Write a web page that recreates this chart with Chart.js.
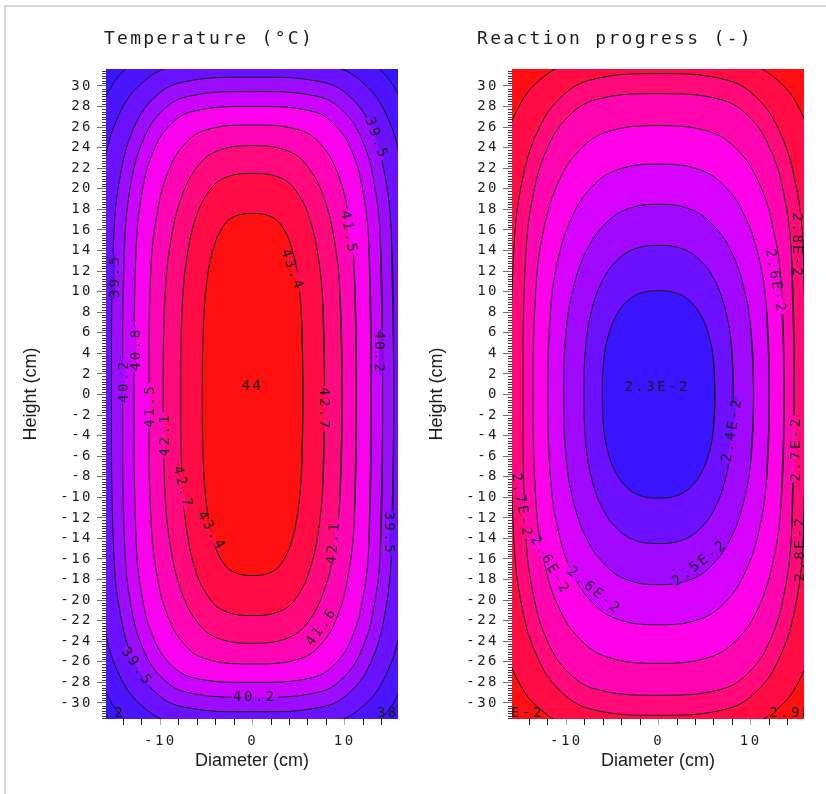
<!DOCTYPE html>
<html>
<head>
<meta charset="utf-8">
<script src="https://cdn.jsdelivr.net/npm/chart.js@4.4.1/dist/chart.umd.min.js"></script>
<style>
html,body{margin:0;padding:0;background:#fff;}
#page{position:relative;width:826px;height:794px;overflow:hidden;}
#frame{position:absolute;left:4px;top:5px;width:840px;height:800px;border-top:2px solid #d8d8d8;border-left:2px solid #d8d8d8;}
canvas{position:absolute;top:0;}
</style>
</head>
<body>
<div id="page">
  <div id="frame"></div>
  <canvas id="temp" width="406" height="794" style="left:6px"></canvas>
  <canvas id="prog" width="406" height="794" style="left:412px"></canvas>
</div>
<script>
var yTicks=[30,28,26,24,22,20,18,16,14,12,10,8,6,4,2,0,-2,-4,-6,-8,-10,-12,-14,-16,-18,-20,-22,-24,-26,-28,-30]
var xTicks=[-14,-12,-10,-8,-6,-4,-2,0,2,4,6,8,10,12,14]
var xTickLabels=[-10,0,10]

// temperature contours, one quarter each (x>=0,y>=0), from the y=0 crossing up to the x=0 crossing
var T434=[[5.45,0],[5.32,7.15],[4.95,11.09],[4.33,13.97],[3.43,16.0],[2.21,17.2],[0,17.6]]
var T427=[[7.8,0],[7.62,8.73],[7.09,13.55],[6.19,17.07],[4.91,19.54],[3.17,21.01],[0,21.5]]
var T421=[[9.7,0],[9.48,9.83],[8.82,15.25],[7.70,19.21],[6.11,22.0],[3.94,23.64],[0,24.2]]
var T415=[[11.25,0],[11.03,12.10],[10.36,17.63],[9.23,21.48],[7.57,24.13],[5.20,25.68],[0,26.2]]
var T408=[[12.85,0],[12.63,14.25],[11.96,19.80],[10.81,23.55],[9.08,26.07],[6.54,27.52],[0,28.0]]
var T402=[[14.1,0],[13.86,14.99],[13.13,20.82],[11.86,24.77],[9.97,27.42],[7.18,28.95],[0,29.45]]
var T395=[[15.3,0],[15.04,15.70],[14.24,21.81],[12.87,25.94],[10.82,28.72],[7.79,30.33],[0,30.85]]
var T389=[[17.2,0],[16.91,16.49],[16.01,22.90],[14.47,27.25],[12.16,30.16],[8.75,31.86],[0,32.4]]
var T382=[[19,0],[18.68,17.46],[17.69,24.25],[15.98,28.85],[13.43,31.93],[9.67,33.72],[0,34.3]]

// reaction progress contours, same layout
var R23=[[6.1,0],[5.94,3.42],[5.44,5.79],[4.62,7.65],[3.50,8.99],[2.07,9.82],[0,10.09]]
var R24=[[8.1,0],[7.88,4.92],[7.22,8.32],[6.14,10.99],[4.65,12.92],[2.75,14.11],[0,14.5]]
var R25=[[10.3,0],[10.02,6.27],[9.18,10.62],[7.81,14.02],[5.91,16.48],[3.49,18.0],[0,18.5]]
var R26=[[12.0,0],[11.7,8.40],[10.81,13.53],[9.32,17.40],[7.25,20.18],[4.5,21.84],[0,22.4]]
var R265=[[13.6,0],[13.29,10.62],[12.36,16.47],[10.80,20.76],[8.57,23.77],[5.52,25.55],[0,26.15]]
var R27=[[14.7,0],[14.41,13.51],[13.54,19.69],[12.05,23.99],[9.89,26.94],[6.79,28.67],[0,29.25]]
var R28=[[16.0,0],[15.68,14.41],[14.74,21.0],[13.12,25.58],[10.77,28.74],[7.39,30.58],[0,31.2]]
var R29=[[18.3,0],[17.99,16.70],[17.04,23.19],[15.39,27.59],[12.94,30.54],[9.31,32.24],[0,32.8]]

var tempLabelText=['44','43.4','43.4','42.7','42.7','42.1','42.1','41.5','41.5','41.6','40.8','40.2','40.2','40.2','39.5','39.5','39.5','39.5','38.2','38.2']
var tempLabelX=[0,4.3,-4.5,7.7,-7.6,-9.5,8.8,-11.1,10.4,7.5,-12.6,-13.9,13.7,0.25,13.4,-14.9,14.8,-12.6,-16.2,15.85]
var tempLabelY=[0.8,12.1,-13.3,-1.4,-9.05,-3.9,-14.4,-1.1,15.75,-22.6,4.4,1.3,4.1,-29.5,24.9,11.5,-13.5,-26.5,-31.0,-31.0]
var tempLabelAngle=[0,70,60,90,75,-90,-85,-90,80,-55,-90,-90,90,0,70,-90,90,55,0,0]

var progLabelText=['2.3E-2','2.4E-2','2.5E-2','2.6E-2','2.6E-2','2.6E-2','2.7E-2','2.7E-2','2.8E-2','2.8E-2','2.9E-2','2.9E-2']
var progLabelX=[-0.15,8.0,4.5,-7.0,-11.8,12.65,-14.9,14.9,15.0,15.4,-16.0,15.55]
var progLabelY=[0.7,-3.45,-16.4,-19.1,-16.6,11.0,-10.8,-5.3,14.5,-15.0,-31.0,-31.0]
var progLabelAngle=[0,-80,-38,40,60,80,80,-90,90,-90,0,0]

// fill inside each curve (innermost first), then the colour outside all of them
var tempColors=['#ff1010','#ff0c46','#ff0a7c','#ff06b4','#fa02ee','#cc04ff','#9c0cff','#6a12ff','#4a14ff']
var tempBg='#3516ff'
var progColors=['#3a14ff','#6c10ff','#a008ff','#d604ff','#ff02e8','#ff06b0','#ff0a78','#ff0c44']
var progBg='#ff0e14'

function closedLoop(q){
	var pts=[],i
	pts.push({x:q[1][0],y:-q[1][1]})
	for(i=0;i<q.length;i++) pts.push({x:q[i][0],y:q[i][1]})
	for(i=q.length-2;i>=0;i--) pts.push({x:-q[i][0],y:q[i][1]})
	for(i=1;i<q.length;i++) pts.push({x:-q[i][0],y:-q[i][1]})
	for(i=q.length-2;i>=0;i--) pts.push({x:q[i][0],y:-q[i][1]})
	pts.push({x:q[1][0],y:q[1][1]})
	return pts
}

// colour of the band next to a label, looked up on the drawn canvas
function bandColour(ctx,a,x,y,nx,ny,side){
	var dists=[4,6,3,8]
	for(var i=0;i<dists.length;i++){
		var px=Math.round(x+side*dists[i]*nx),py=Math.round(y+side*dists[i]*ny)
		if(px<a.left||px>=a.right||py<a.top||py>=a.bottom) continue
		var d=ctx.getImageData(px,py,1,1).data
		if(d[3]>0 && Math.max(d[0],d[1],d[2])>150) return 'rgb('+d[0]+','+d[1]+','+d[2]+')'
	}
	return null
}

function contourPlugin(bg,labels,title){
	return {
		id:'contour',
		beforeDraw:function(chart){ chart.ctx.letterSpacing='2.5px' },
		beforeDatasetsDraw:function(chart){
			var a=chart.chartArea,ctx=chart.ctx
			ctx.save()
			ctx.fillStyle=bg
			ctx.fillRect(a.left,a.top,a.right-a.left,a.bottom-a.top)
			ctx.restore()
		},
		afterDatasetsDraw:function(chart){
			var a=chart.chartArea,ctx=chart.ctx,sx=chart.scales.x,sy=chart.scales.y
			var items=[],i
			for(i=0;i<labels.text.length;i++){
				var cx=sx.getPixelForValue(labels.x[i]),cy=sy.getPixelForValue(labels.y[i])
				var th=labels.angle[i]*Math.PI/180
				var nx=-Math.sin(th),ny=Math.cos(th)
				items.push({t:labels.text[i],x:cx,y:cy,th:th,
					up:bandColour(ctx,a,cx,cy,nx,ny,-1),dn:bandColour(ctx,a,cx,cy,nx,ny,1)})
			}
			ctx.save()
			ctx.beginPath()
			ctx.rect(a.left,a.top,a.right-a.left,a.bottom-a.top)
			ctx.clip()
			ctx.font='14px "DejaVu Sans Mono"'
			ctx.letterSpacing='2.5px'
			ctx.textAlign='center'
			ctx.textBaseline='middle'
			items.forEach(function(it){
				var w=ctx.measureText(it.t).width+2
				ctx.save()
				ctx.translate(it.x,it.y)
				ctx.rotate(it.th)
				if(it.up && it.dn){
					// break the contour line under the label
					ctx.fillStyle=it.up
					ctx.fillRect(-w/2,-4,w,4)
					ctx.fillStyle=it.dn
					ctx.fillRect(-w/2,0,w,4)
				}
				ctx.fillStyle='#1c1c1c'
				ctx.fillText(it.t,0,0)
				ctx.restore()
			})
			ctx.restore()
		},
		afterDraw:function(chart){
			var a=chart.chartArea,ctx=chart.ctx,sy=chart.scales.y
			ctx.save()
			// minor ticks of the height axis
			ctx.strokeStyle='#3a3a3a'
			ctx.lineWidth=1
			ctx.beginPath()
			for(var k=-126;k<=126;k++){
				if(k%8===0) continue
				var py=Math.round(sy.getPixelForValue(k/4))+0.5
				ctx.moveTo(a.left-4,py)
				ctx.lineTo(a.left,py)
			}
			ctx.stroke()
			ctx.fillStyle='#1c1c1c'
			ctx.textAlign='center'
			ctx.textBaseline='middle'
			ctx.letterSpacing='2.3px'
			ctx.font='18px "DejaVu Sans Mono"'
			ctx.fillText(title,chart.width/2,39)
			ctx.letterSpacing='0px'
			ctx.font='18px "Liberation Sans"'
			ctx.fillText('Diameter (cm)',(a.left+a.right)/2,761)
			ctx.translate(25,(a.top+a.bottom)/2)
			ctx.rotate(-Math.PI/2)
			ctx.fillText('Height (cm)',0,0)
			ctx.restore()
		}
	}
}

function makeChart(id,curves,colors,bg,labels,title){
	var datasets=[]
	for(var i=0;i<curves.length;i++){
		datasets.push({data:closedLoop(curves[i]),backgroundColor:colors[i],borderColor:'#161616',fill:'shape'})
	}
	var tickFont={family:'DejaVu Sans Mono',size:14}
	return new Chart(document.getElementById(id),{
		type:'line',
		data:{datasets:datasets},
		options:{
			responsive:false,
			animation:false,
			events:[],
			layout:{padding:{top:69,right:14,bottom:45,left:0}},
			elements:{
				line:{borderWidth:1,tension:0.4,capBezierPoints:false},
				point:{radius:0}
			},
			scales:{
				x:{
					type:'linear',min:-15.9,max:15.77,
					afterBuildTicks:function(s){ s.ticks=xTicks.map(function(v){return {value:v}}) },
					afterFit:function(s){ s.height=30 },
					border:{display:false},
					grid:{drawOnChartArea:false,tickLength:6,tickColor:function(c){ return c.tick && c.tick.value%10===0 ? '#a8a8a8' : '#1a1a1a' }},
					ticks:{autoSkip:false,maxRotation:0,padding:8,color:'#1e1e1e',font:tickFont,
						callback:function(v){ return xTickLabels.indexOf(v)>=0 ? String(v) : '' }}
				},
				y:{
					type:'linear',min:-31.56,max:31.65,
					afterBuildTicks:function(s){ s.ticks=yTicks.map(function(v){return {value:v}}) },
					afterFit:function(s){ s.width=100 },
					border:{display:false},
					grid:{drawOnChartArea:false,tickLength:9,tickColor:'#707070'},
					ticks:{autoSkip:false,padding:4,color:'#1e1e1e',font:tickFont,
						callback:function(v){ return String(v) }}
				}
			},
			plugins:{legend:{display:false},tooltip:{enabled:false}}
		},
		plugins:[contourPlugin(bg,labels,title)]
	})
}

makeChart('temp',[T434,T427,T421,T415,T408,T402,T395,T389,T382],tempColors,tempBg,
	{text:tempLabelText,x:tempLabelX,y:tempLabelY,angle:tempLabelAngle},'Temperature (°C)')
makeChart('prog',[R23,R24,R25,R26,R265,R27,R28,R29],progColors,progBg,
	{text:progLabelText,x:progLabelX,y:progLabelY,angle:progLabelAngle},'Reaction progress (-)')
</script>
</body>
</html>
